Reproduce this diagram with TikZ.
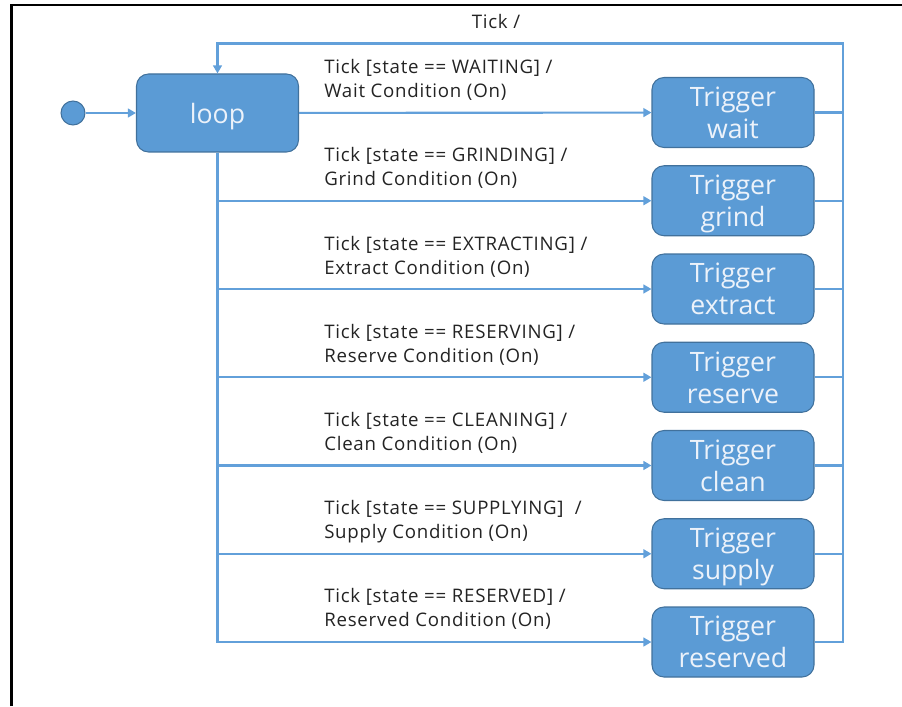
\documentclass[tikz,border=0pt]{standalone}
\usepackage{fontspec}
\setmainfont{Open Sans}
\newfontfamily\guardfont[LetterSpace=4]{Open Sans}
\usetikzlibrary{arrows.meta}

\definecolor{stateblue}{RGB}{91,155,213}
\definecolor{stateedge}{RGB}{65,113,156}
\definecolor{wireblue}{RGB}{98,160,218}
\definecolor{statetext}{RGB}{236,242,250}
\definecolor{guardtext}{RGB}{35,35,35}

\begin{document}
\begin{tikzpicture}[x=0.75pt,y=0.75pt,yscale=-1,xscale=1,
	statebox/.style={draw=stateedge, fill=stateblue, line width=0.8pt, rounded corners=9pt, text=statetext, font=\fontsize{20}{24}\selectfont, align=center, inner sep=0pt, minimum width=121.5pt, minimum height=52.5pt},
	wire/.style={draw=wireblue, line width=1.6pt},
	wirearrow/.style={wire, -{Triangle[length=6pt,width=6.5pt]}},
	guard/.style={anchor=north west, inner sep=0pt, align=left, text=guardtext, font=\guardfont\fontsize{14}{18}\selectfont}]
	\useasboundingbox (0,0) rectangle (902,706);
	
	%Frame
	\draw [line width=1.6pt] (11.5,706) -- (11.5,5) -- (902,5) ;
	
	%Shape: Initial state
	\node [circle, fill=stateblue, draw=stateedge, line width=0.8pt, minimum size=18pt, inner sep=0pt] (init) at (73,113) {};
	%Shape: Loop state
	\node [statebox, minimum height=58.5pt, text depth=0pt] (loop) at (217.5,113) {loop};
	%Shape: Trigger states
	\node [statebox] (wait) at (733,112.5) {Trigger\\\smash{wait}};
	\node [statebox] (grind) at (733,200.75) {Trigger\\\smash{grind}};
	\node [statebox] (extract) at (733,289) {Trigger\\\smash{extract}};
	\node [statebox] (reserve) at (733,377.25) {Trigger\\\smash{reserve}};
	\node [statebox] (clean) at (733,465.5) {Trigger\\\smash{clean}};
	\node [statebox] (supply) at (733,553.75) {Trigger\\\smash{supply}};
	\node [statebox] (reserved) at (733,642) {Trigger\\\smash{reserved}};
	\coordinate (rtop) at (843,43.5);
	
	%Straight Lines: loop to triggers
	\draw [wirearrow] (init) -- (loop) ;
	\draw [wirearrow] (loop) -- (wait) ;
	\draw [wirearrow] (loop.south) |- (grind) ;
	\draw [wirearrow] (loop.south) |- (extract) ;
	\draw [wirearrow] (loop.south) |- (reserve) ;
	\draw [wirearrow] (loop.south) |- (clean) ;
	\draw [wirearrow] (loop.south) |- (supply) ;
	\draw [wirearrow] (loop.south) |- (reserved) ;
	
	%Straight Lines: triggers back to loop
	\draw [wire] (wait) -- (wait -| rtop) ;
	\draw [wire] (grind) -- (grind -| rtop) ;
	\draw [wire] (extract) -- (extract -| rtop) ;
	\draw [wire] (reserve) -- (reserve -| rtop) ;
	\draw [wire] (clean) -- (clean -| rtop) ;
	\draw [wire] (supply) -- (supply -| rtop) ;
	\draw [wirearrow] (reserved) -| (rtop) -| (loop) ;
	
	% Text Node
	\node [guard, anchor=base] (gtick) at (496,29) {Tick /};
	% Text Node
	\node [guard] (gwait) at (324,59) {Tick [state == WAITING] /\\Wait Condition (On)};
	% Text Node
	\node [guard] (ggrind) at (324,147) {Tick [state == GRINDING] /\\Grind Condition (On)};
	% Text Node
	\node [guard] (gextract) at (324,236) {Tick [state == EXTRACTING] /\\Extract Condition (On)};
	% Text Node
	\node [guard] (greserve) at (324,324) {Tick [state == RESERVING] /\\Reserve Condition (On)};
	% Text Node
	\node [guard] (gclean) at (324,412) {Tick [state == CLEANING] /\\Clean Condition (On)};
	% Text Node
	\node [guard] (gsupply) at (324,500) {Tick [state == SUPPLYING]~~/\\Supply Condition (On)};
	% Text Node
	\node [guard] (greserved) at (324,588) {Tick [state == RESERVED] /\\Reserved Condition (On)};
	
\end{tikzpicture}
\end{document}
